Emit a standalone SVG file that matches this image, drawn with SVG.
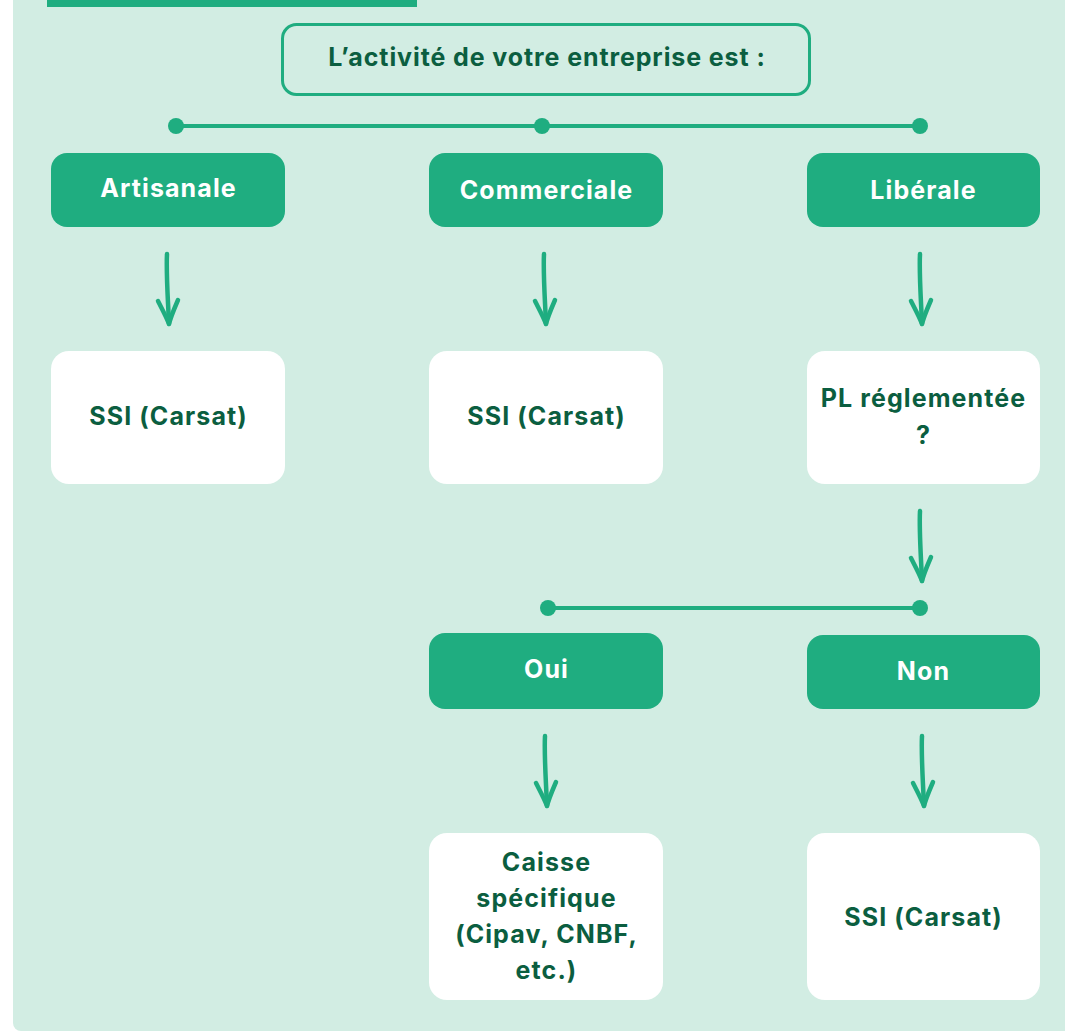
<svg xmlns="http://www.w3.org/2000/svg" xmlns:xlink="http://www.w3.org/1999/xlink" width="1065" height="1032" viewBox="0 0 1065 1032">
<style>
.bg{fill:#d2ede3}
.gnode{fill:#1fad80}
.wnode{fill:#ffffff}
.wt{font-family:Inter,"Liberation Sans",sans-serif;font-weight:700;font-size:25px;letter-spacing:1.1px;fill:#ffffff;text-anchor:middle}
.dt{font-family:Inter,"Liberation Sans",sans-serif;font-weight:700;font-size:25px;letter-spacing:1.1px;fill:#0b5e40;text-anchor:middle}
.line{stroke:#1fad80;stroke-width:4;fill:none}
.dot{fill:#1fad80}
.arr{stroke:#1fad80;stroke-width:4.5;fill:none;stroke-linecap:round;stroke-linejoin:round}
</style>
<defs>
<g id="arrow">
<path class="arr" d="M0,0 C-1,20 1,45 2,70"/>
<path class="arr" d="M-9,47 C-5,55 -1,62 2,70 C4,62 8,53 11,46"/>
</g>
</defs>
<rect class="bg" x="13" y="-20" width="1070" height="1051" rx="8"/>
<rect x="47" y="-10" width="370" height="17" fill="#1fad80"/>

<g id="connectors">
<line class="line" x1="176" y1="126" x2="920" y2="126"/>
<circle class="dot" cx="176" cy="126" r="8"/>
<circle class="dot" cx="542" cy="126" r="8"/>
<circle class="dot" cx="920" cy="126" r="8"/>
<use xlink:href="#arrow" x="167" y="254"/>
<use xlink:href="#arrow" x="544" y="254"/>
<use xlink:href="#arrow" x="920" y="254"/>
<use xlink:href="#arrow" x="920" y="511"/>
<line class="line" x1="548" y1="608" x2="920" y2="608"/>
<circle class="dot" cx="548" cy="608" r="8"/>
<circle class="dot" cx="920" cy="608" r="8"/>
<use xlink:href="#arrow" x="545" y="736"/>
<use xlink:href="#arrow" x="922" y="736"/>
</g>

<g id="question">
<rect x="282.5" y="24.5" width="527" height="70" rx="14" fill="none" stroke="#1fad80" stroke-width="3"/>
<text class="dt" x="547" y="66" style="letter-spacing:0.9px">L’activité de votre entreprise est :</text>
</g>

<g id="artisanale">
<rect class="gnode" x="51" y="153" width="234" height="74" rx="16"/>
<text class="wt" x="168.5" y="197">Artisanale</text>
</g>
<g id="commerciale">
<rect class="gnode" x="429" y="153" width="234" height="74" rx="16"/>
<text class="wt" x="546.5" y="199">Commerciale</text>
</g>
<g id="liberale">
<rect class="gnode" x="807" y="153" width="233" height="74" rx="16"/>
<text class="wt" x="923.5" y="199">Libérale</text>
</g>

<g id="ssi1">
<rect class="wnode" x="51" y="351" width="234" height="133" rx="18"/>
<text class="dt" x="168.5" y="425">SSI (Carsat)</text>
</g>
<g id="ssi2">
<rect class="wnode" x="429" y="351" width="234" height="133" rx="18"/>
<text class="dt" x="546.5" y="425">SSI (Carsat)</text>
</g>
<g id="pl">
<rect class="wnode" x="807" y="351" width="233" height="133" rx="18"/>
<text class="dt" x="923.5" y="407">PL réglementée</text>
<text class="dt" x="923.5" y="444">?</text>
</g>

<g id="oui">
<rect class="gnode" x="429" y="633" width="234" height="76" rx="16"/>
<text class="wt" x="546.5" y="678">Oui</text>
</g>
<g id="non">
<rect class="gnode" x="807" y="635" width="233" height="74" rx="16"/>
<text class="wt" x="923.5" y="680">Non</text>
</g>

<g id="caisse">
<rect class="wnode" x="429" y="833" width="234" height="167" rx="18"/>
<text class="dt" x="546.5" y="871">Caisse</text>
<text class="dt" x="546.5" y="907">spécifique</text>
<text class="dt" x="546.5" y="943">(Cipav, CNBF,</text>
<text class="dt" x="546.5" y="979">etc.)</text>
</g>
<g id="ssi3">
<rect class="wnode" x="807" y="833" width="233" height="167" rx="18"/>
<text class="dt" x="923.5" y="926">SSI (Carsat)</text>
</g>
</svg>
